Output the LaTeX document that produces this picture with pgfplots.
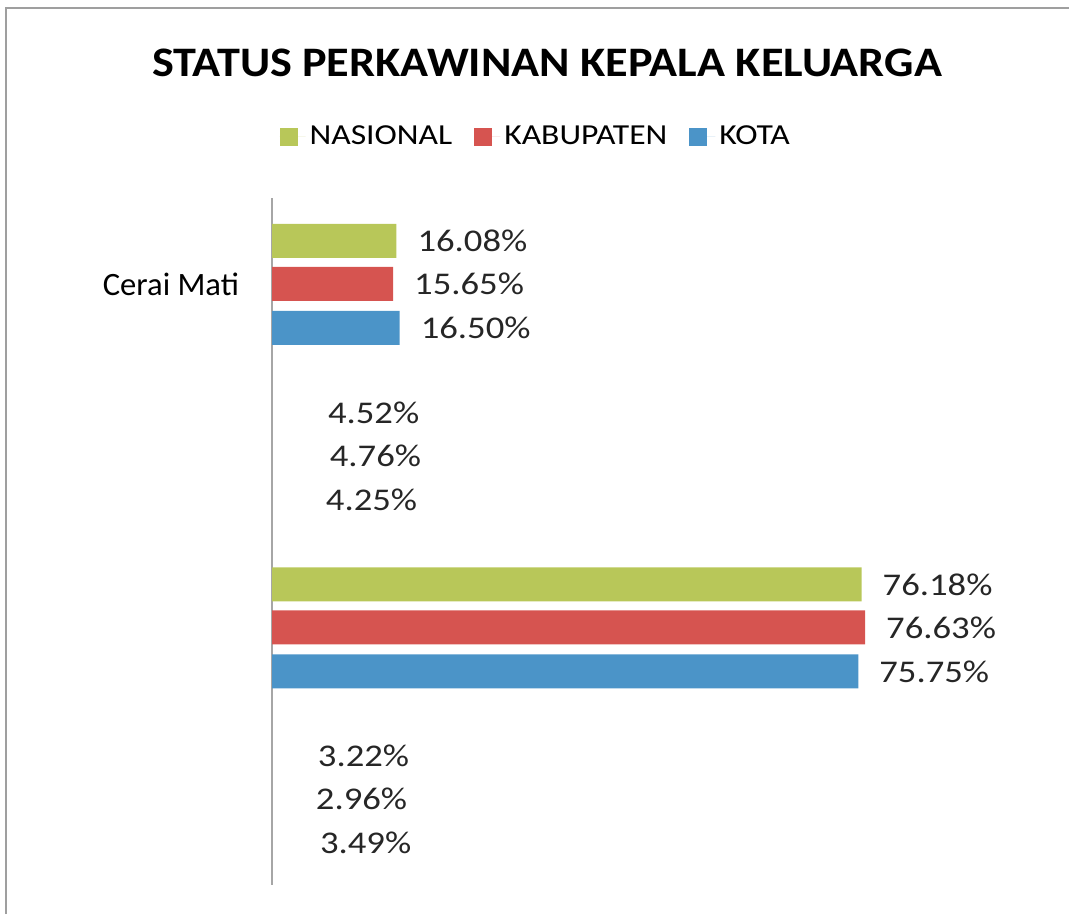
\documentclass[border=0pt]{standalone}
\usepackage{pgfplots}
\pgfplotsset{compat=1.18}
\usepackage{fontspec}
\setmainfont{Carlito}
\newfontfamily\widefont{Carlito}[FakeStretch=1.16]
\newfontfamily\titlefont{Carlito}[FakeStretch=1.1]
\definecolor{nasional}{RGB}{184,199,89}
\definecolor{kabupaten}{RGB}{214,84,80}
\definecolor{kota}{RGB}{75,148,200}

\begin{document}
\begin{tikzpicture}
\path[use as bounding box] (0pt,0pt) rectangle (534.5pt,-457pt);
\draw[gray!75, line width=1.2pt] (3pt,-457pt) -- (3pt,-4pt) -- (534.5pt,-4pt);
\node[font=\titlefont\fontsize{21}{25}\selectfont\bfseries] at (273.5pt,-31.5pt) {STATUS PERKAWINAN KEPALA KELUARGA};
\begin{axis}[
  at={(136pt,-99pt)}, anchor=north west,
  scale only axis, width=387pt, height=343.5pt,
  xbar, bar width=17pt,
  xmin=0, xmax=100, ymin=-0.5, ymax=3.5, y dir=reverse,
  axis x line=none, axis y line*=left,
  y axis line style={gray!70, line width=0.6pt},
  ytick={0,1,2,3}, yticklabels={Cerai Mati,,,},
  major tick length=0pt,
  yticklabel style={font=\fontsize{16.3}{18}\selectfont, xshift=-13pt},
  clip=false,
  nodes near coords={\pgfmathprintnumber[assume math mode=true,fixed,fixed zerofill,precision=2]{\pgfplotspointmeta}\%},
  every node near coord/.append style={text=black!85, font=\widefont\fontsize{15.8}{18}\selectfont, anchor=west, xshift=7pt},
  legend columns=3,
  legend image code/.code={\fill[#1] (0pt,-4.5pt) rectangle (9pt,4.5pt); \path (0pt,0pt) -- (13pt,0pt);},
  legend style={draw=none, at={(0.342,1.0888)}, anchor=center,
    font=\widefont\fontsize{14.5}{16}\selectfont,
    /tikz/every even column/.append style={column sep=9pt}},
]
% visible bars
\addplot[fill=nasional, draw=none, bar shift=21.5pt] coordinates {(16.08,0) (76.18,2)};
\addplot[fill=kabupaten, draw=none, bar shift=0pt] coordinates {(15.65,0) (76.63,2)};
\addplot[fill=kota, draw=none, bar shift=-22pt] coordinates {(16.50,0) (75.75,2)};
% groups whose bars are not shown, only their labels
\addplot[draw=none, fill=none, bar shift=21.5pt, forget plot] coordinates {(4.52,1) (3.22,3)};
\addplot[draw=none, fill=none, bar shift=0pt, forget plot] coordinates {(4.76,1) (2.96,3)};
\addplot[draw=none, fill=none, bar shift=-22pt, forget plot] coordinates {(4.25,1) (3.49,3)};
\legend{NASIONAL,KABUPATEN,KOTA}
\end{axis}
\end{tikzpicture}
\end{document}
